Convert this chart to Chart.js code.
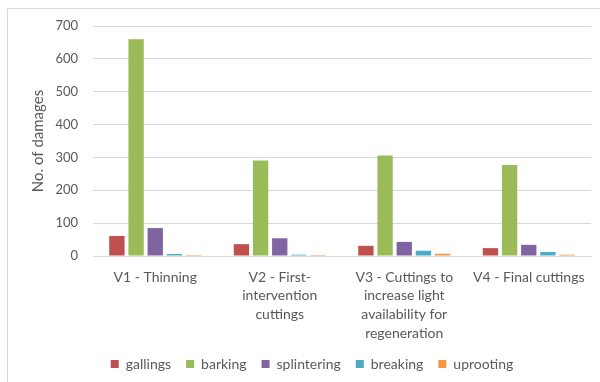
<!DOCTYPE html>
<html>
<head>
<meta charset="utf-8">
<script src="https://cdn.jsdelivr.net/npm/chart.js@4.4.1/dist/chart.umd.min.js"></script>
<style>
  html, body { margin: 0; padding: 0; background: #ffffff; }
  #wrap { width: 600px; height: 382px; position: relative; }
</style>
</head>
<body>
<div id="wrap"><canvas id="c" width="600" height="382"></canvas></div>
<script>
// Felling treatments (x categories, wrapped into lines)
const categories = [
  ["V1 - Thinning"],
  ["V2 - First-", "intervention", "cuttings"],
  ["V3 - Cuttings to", "increase light", "availability for", "regeneration"],
  ["V4 - Final cuttings"]
];

// Damage counts per type
const gallings    = [61, 36, 31, 24];
const barking     = [660, 291, 306, 277];
const splintering = [85, 54, 43, 34];
const breaking    = [6, 4, 16, 12];
const uprooting   = [3, 3, 7, 4];

const seriesNames = ["gallings", "barking", "splintering", "breaking", "uprooting"];
const yTicks = [0, 100, 200, 300, 400, 500, 600, 700];

const fills = ["#C0504D", "#9BBB59", "#8064A2", "#4BACC6", "#F79646"];

const values = [gallings, barking, splintering, breaking, uprooting];
const datasets = seriesNames.map((name, i) => ({
  label: name,
  data: values[i],
  backgroundColor: fills[i],
  borderWidth: 0,
  categoryPercentage: 0.77,
  barPercentage: 0.8
}));

// Thin frame on the left and top of the chart box; legend nudged right
const framePlugin = {
  id: 'frame',
  afterLayout(chart) {
    if (chart.legend) {
      chart.legend.left += 13;
      chart.legend.right += 13;
    }
  },
  beforeDraw(chart) {
    const ctx = chart.ctx;
    ctx.save();
    ctx.strokeStyle = '#d9d9d9';
    ctx.lineWidth = 1;
    ctx.beginPath();
    ctx.moveTo(7.5, 382);
    ctx.lineTo(7.5, 8.5);
    ctx.lineTo(600, 8.5);
    ctx.stroke();
    ctx.restore();
  }
};

const textColor = '#595959';
const fontFamily = 'Lato, "Open Sans", "Liberation Sans", sans-serif';

new Chart(document.getElementById('c'), {
  type: 'bar',
  data: { labels: categories, datasets },
  options: {
    responsive: false,
    animation: false,
    devicePixelRatio: 1,
    layout: { padding: { left: 7, right: 9, top: 26, bottom: 1 } },
    plugins: {
      legend: {
        position: 'bottom',
        labels: {
          boxWidth: 8,
          boxHeight: 8,
          padding: 15,
          color: textColor,
          font: { family: fontFamily, size: 14 }
        }
      },
      tooltip: { enabled: false }
    },
    scales: {
      x: {
        grid: { display: false, drawTicks: false },
        border: { display: true, color: '#d9d9d9' },
        ticks: {
          color: textColor,
          font: { family: fontFamily, size: 14, lineHeight: 1.33 },
          padding: 12,
          maxRotation: 0,
          autoSkip: false
        },
        afterFit(scale) { scale.height = 86; }
      },
      y: {
        min: 0,
        max: 700,
        afterBuildTicks(scale) { scale.ticks = yTicks.map(v => ({ value: v })); },
        grid: { color: '#d9d9d9', drawTicks: false },
        border: { display: false },
        ticks: {
          color: textColor,
          font: { family: fontFamily, size: 13 },
          padding: 15
        },
        title: {
          display: true,
          text: 'No. of damages',
          color: textColor,
          font: { family: fontFamily, size: 15 },
          padding: { top: 22, bottom: 0 }
        },
        afterFit(scale) { scale.width = 86; }
      }
    }
  },
  plugins: [framePlugin]
});
</script>
</body>
</html>
